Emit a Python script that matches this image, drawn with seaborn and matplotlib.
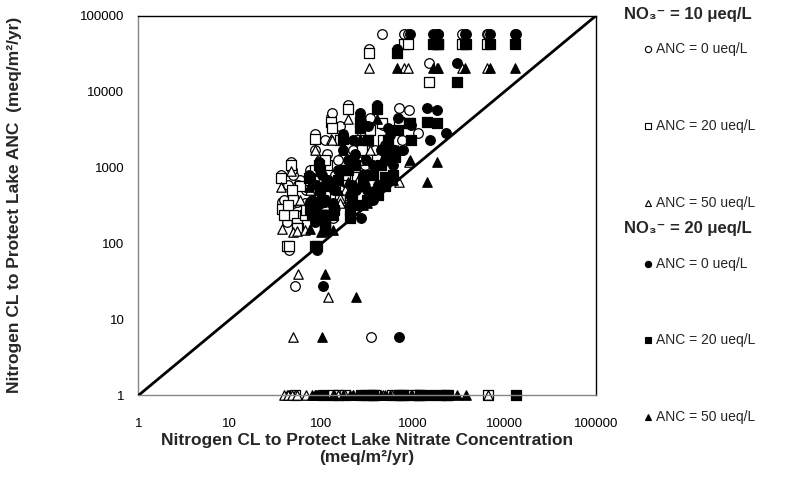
import matplotlib
matplotlib.use("Agg")
import matplotlib.pyplot as plt
import seaborn as sns
from matplotlib.lines import Line2D
from matplotlib.ticker import NullLocator

# Critical loads per lake (meq/m2/yr).
# Nitrogen CL to protect lake nitrate at NO3- = 10 and 20 ueq/L
no3_10_cl = [331, 459, 800, 884, 1500, 1836, 3446, 6460, 195, 127, 85, 46.6, 36.2,
             705, 906, 1136, 160, 37.1, 49.0, 54.2, 42.1, 44.3, 134, 160, 101.6,
             66.2, 115, 245, 264, 340, 250, 315, 131, 96.6, 75.1, 58.3, 109, 181,
             141, 205, 299, 101.6, 221, 245, 55.5, 51.5, 118, 49.0, 348, 6620, 1882,
             39.0, 43.2, 47.7, 54.2, 67.9, 85.1, 109, 152, 181, 278, 385, 471, 590,
             760, 977, 1194]
no3_20_cl = [670, 929, 1660, 1882, 3038, 3715, 6966, 13060, 405, 264, 172, 94.2, 73.3,
             1425, 1836, 2303, 323, 75.1, 99.1, 109, 85.1, 89.5, 271, 315, 205,
             134, 233, 495, 534, 688, 507, 637, 264, 195, 152, 118, 216, 366,
             285, 415, 605, 205, 448, 495, 109, 104, 239, 101.6, 705, 13400, 3811,
             78.9, 87.3, 96.6, 109, 137, 172, 221, 307, 366, 562, 779, 953, 1194,
             1538, 1980, 2421]
# Nitrogen CL to protect lake ANC at 0, 20 and 50 ueq/L
anc0_cl = [36700, 57900, 57900, 57900, 24000, 57900, 57900, 57900, 6710, 4670, 2790,
           1190, 804, 6130, 5770, 2870, 3550, 354, 344, 354, 193, 83, 218, 510, 438,
           344, 1520, 2000, 3340, 4530, 1610, 1720, 5270, 1270, 935, 691, 593, 1090,
           804, 593, 1090, 324, 1720, 691, 593, 28, 510, 804, 5.9, 57900, 57900,
           377, 593, 935, 239, 510, 1720, 2320, 1270, 377, 2700, 1720, 3660, 1,
           2320, 1, 1]
anc20_cl = [32600, 3890, 42700, 42700, 13500, 42700, 42700, 42700, 5950, 4010, 2400,
            1090, 734, 4010, 3890, 1, 2320, 287, 239, 187, 93, 93, 1, 377, 278,
            239, 1090, 756, 2320, 3150, 1270, 1390, 3340, 935, 691, 576, 438, 804,
            631, 438, 804, 218, 1090, 576, 161, 1, 324, 377, 1, 1, 42700,
            239, 324, 510, 161, 278, 935, 1270, 1, 1, 1720, 1, 2320, 1,
            1, 1, 1]
anc50_cl = [20600, 1270, 20600, 20600, 1, 20600, 20600, 20600, 4390, 2400, 1720,
            907, 558, 650, 1190, 1, 400, 156, 143, 147, 1, 1, 1, 344, 218,
            151, 593, 593, 1270, 1720, 691, 804, 2320, 650, 510, 377, 324, 510,
            324, 510, 691, 1, 1, 1, 40, 1, 20, 5.9, 1, 1, 1,
            1, 1, 1, 1, 1, 1, 1, 1, 1, 1, 1, 1, 1,
            1, 1, 1]

axis_ticks = [1, 10, 100, 1000, 10000, 100000]
axis_tick_labels = ["1", "10", "100", "1000", "10000", "100000"]
one_to_one = [1, 100000]

group_titles = ["NO₃⁻ = 10 μeq/L", "NO₃⁻ = 20 μeq/L"]
anc_labels = ["ANC = 0 ueq/L", "ANC = 20 ueq/L", "ANC = 50 ueq/L"]

sns.set_style("white")
plt.rcParams['font.family'] = ['Liberation Sans', 'DejaVu Sans']

fig = plt.figure(figsize=(7.9, 4.94), dpi=100)
ax = fig.add_axes([0.1751, 0.1994, 0.5793, 0.7688])

series = [
    (no3_10_cl, anc0_cl, 'o', 'white', 48),
    (no3_10_cl, anc20_cl, 's', 'white', 42),
    (no3_10_cl, anc50_cl, '^', 'white', 46),
    (no3_20_cl, anc0_cl, 'o', 'black', 48),
    (no3_20_cl, anc20_cl, 's', 'black', 42),
    (no3_20_cl, anc50_cl, '^', 'black', 46),
]
for xs, ys, mk, face, size in series:
    sns.scatterplot(x=xs, y=ys, marker=mk, s=size, color=face, edgecolor='black',
                    linewidth=0.9, ax=ax, clip_on=False, zorder=2, legend=False)

ax.plot(one_to_one, one_to_one, color='black', lw=2, zorder=3, solid_capstyle='butt')

ax.set_xscale('log')
ax.set_yscale('log')
ax.set_xlim(axis_ticks[0], axis_ticks[-1])
ax.set_ylim(axis_ticks[0], axis_ticks[-1])
ax.set_xticks(axis_ticks)
ax.set_xticklabels(axis_tick_labels)
ax.set_yticks(axis_ticks)
ax.set_yticklabels(axis_tick_labels)
ax.xaxis.set_minor_locator(NullLocator())
ax.yaxis.set_minor_locator(NullLocator())
ax.tick_params(axis='both', which='major', direction='out', length=5, width=1,
               color='#868686', labelsize=9.5, labelcolor='black')
ax.tick_params(axis='x', pad=11)
ax.tick_params(axis='y', pad=5)
for side in ('left', 'bottom'):
    ax.spines[side].set_color('#868686')
    ax.spines[side].set_linewidth(1)
for side in ('top', 'right'):
    ax.spines[side].set_color('black')
    ax.spines[side].set_linewidth(1)
ax.set_xlabel("")
ax.set_ylabel("")

fig.text(367 / 790, 1 - 449 / 494,
         "Nitrogen CL to Protect Lake Nitrate Concentration\n(meq/m²/yr)",
         ha='center', va='center', fontsize=12.5, fontweight='bold', linespacing=1.1)
fig.text(15 / 790, 1 - 205 / 494,
         "Nitrogen CL to Protect Lake ANC  (meq/m²/yr)",
         ha='center', va='center', rotation=90, fontsize=12.5, fontweight='bold')

# legend, drawn beside the plot area
title_y = [15, 228]
entry_y = [[49, 126, 203], [264, 340, 417]]
legend_markers = ['o', 's', '^']
legend_faces = ['white', 'black']
for g in range(2):
    fig.text(624 / 790, 1 - title_y[g] / 494, group_titles[g], ha='left', va='center',
             fontsize=12, fontweight='bold')
    for k in range(3):
        yy = 1 - entry_y[g][k] / 494
        fig.add_artist(Line2D([648 / 790], [yy], marker=legend_markers[k], markersize=4.5,
                              markerfacecolor=legend_faces[g], markeredgecolor='black',
                              markeredgewidth=0.8, linestyle='none',
                              transform=fig.transFigure))
        fig.text(656 / 790, yy, anc_labels[k], ha='left', va='center', fontsize=10)

fig.savefig("out.png", dpi=100)
